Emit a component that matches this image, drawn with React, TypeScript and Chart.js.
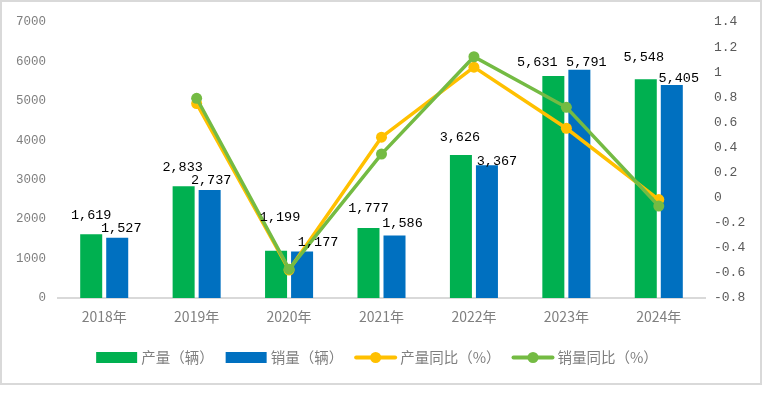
import React, { useEffect, useRef } from 'react';
import { Chart, registerables } from 'chart.js';

Chart.register(...registerables);

const CATEGORIES = ['2018年', '2019年', '2020年', '2021年', '2022年', '2023年', '2024年'];
const PRODUCTION = [1619, 2833, 1199, 1777, 3626, 5631, 5548];
const SALES = [1527, 2737, 1177, 1586, 3367, 5791, 5405];
const PROD_YOY = [null, 0.75, -0.577, 0.482, 1.04, 0.553, -0.015];
const SALES_YOY = [null, 0.792, -0.57, 0.347, 1.123, 0.72, -0.067];
const SERIES_NAMES = ['产量（辆）', '销量（辆）', '产量同比（%）', '销量同比（%）'];
const LEFT_MIN = 0;
const LEFT_MAX = 7000;
const LEFT_STEP = 1000;
const RIGHT_MIN = -0.8;
const RIGHT_MAX = 1.4;
const RIGHT_STEP = 0.2;

const COLORS = ['#00B050', '#0070C0', '#FFC000', '#74BB43'];

// label nudges (style): [dx, dy] relative to bar top centre
const PROD_LABEL_NUDGE = [[0, -15], [-1, -15], [4, -30], [0, -16], [-1, -14], [-16, -10], [-2, -18]];
const SALES_LABEL_NUDGE = [[4, -6], [1.5, -6], [16, -6], [8, -8], [10, 0], [7, -4], [7, -3]];

const W = 762;
const H = 398;
const CJK = '"Noto Sans CJK SC", "Noto Sans", sans-serif';
const MONO = '"Liberation Mono", "DejaVu Sans Mono", monospace';

const framePlugin = {
  id: 'frame',
  beforeDraw(chart: any) {
    const ctx = chart.ctx;
    ctx.save();
    ctx.fillStyle = '#ffffff';
    ctx.fillRect(0, 0, W, H);
    ctx.strokeStyle = '#d9d9d9';
    ctx.lineWidth = 2;
    ctx.strokeRect(1, 1, 760, 383);
    ctx.restore();
  },
};

const labelPlugin = {
  id: 'barLabels',
  afterDatasetsDraw(chart: any) {
    const ctx = chart.ctx;
    ctx.save();
    ctx.font = '13.5px ' + MONO;
    ctx.fillStyle = '#000000';
    ctx.textAlign = 'center';
    ctx.textBaseline = 'alphabetic';
    const sets = [
      { idx: 0, vals: PRODUCTION, nudge: PROD_LABEL_NUDGE },
      { idx: 1, vals: SALES, nudge: SALES_LABEL_NUDGE },
    ];
    sets.forEach((s) => {
      const meta = chart.getDatasetMeta(s.idx);
      meta.data.forEach((el: any, i: number) => {
        const [dx, dy] = s.nudge[i];
        ctx.fillText(s.vals[i].toLocaleString('en-US'), el.x + dx, el.y + dy);
      });
    });
    ctx.restore();
  },
};

const legendPlugin = {
  id: 'customLegend',
  afterDraw(chart: any) {
    const ctx = chart.ctx;
    ctx.save();
    ctx.font = '14.5px ' + CJK;
    const markerW = 41;
    const gapMT = 4;
    const gapItems = 12;
    const widths = SERIES_NAMES.map((n) => ctx.measureText(n).width);
    const total = widths.reduce((a, b) => a + b, 0) + SERIES_NAMES.length * (markerW + gapMT) + (SERIES_NAMES.length - 1) * gapItems;
    let x = 377 - total / 2;
    const cy = 357.5;
    SERIES_NAMES.forEach((name, i) => {
      const c = COLORS[i];
      if (i < 2) {
        ctx.fillStyle = c;
        ctx.fillRect(x, cy - 5.5, markerW, 11);
      } else {
        ctx.strokeStyle = c;
        ctx.lineWidth = 4;
        ctx.lineCap = 'round';
        ctx.beginPath();
        ctx.moveTo(x + 1, cy);
        ctx.lineTo(x + markerW - 1, cy);
        ctx.stroke();
        ctx.fillStyle = c;
        ctx.beginPath();
        ctx.arc(x + markerW / 2, cy, 5.5, 0, Math.PI * 2);
        ctx.fill();
      }
      x += markerW + gapMT;
      ctx.fillStyle = '#7f7f7f';
      ctx.textAlign = 'left';
      ctx.textBaseline = 'middle';
      ctx.fillText(name, x, cy);
      x += widths[i] + gapItems;
    });
    ctx.restore();
  },
};

export default function App() {
  const ref = useRef<HTMLCanvasElement | null>(null);
  useEffect(() => {
    if (!ref.current) return;
    const chart = new Chart(ref.current, {
      type: 'bar',
      data: {
        labels: CATEGORIES,
        datasets: [
          {
            type: 'bar',
            label: SERIES_NAMES[0],
            data: PRODUCTION,
            backgroundColor: COLORS[0],
            yAxisID: 'y',
            order: 3,
            categoryPercentage: 0.563,
            barPercentage: 0.846,
          },
          {
            type: 'bar',
            label: SERIES_NAMES[1],
            data: SALES,
            backgroundColor: COLORS[1],
            yAxisID: 'y',
            order: 3,
            categoryPercentage: 0.563,
            barPercentage: 0.846,
          },
          {
            type: 'line',
            label: SERIES_NAMES[2],
            data: PROD_YOY,
            borderColor: COLORS[2],
            backgroundColor: COLORS[2],
            borderWidth: 3.5,
            pointRadius: 5.5,
            pointBorderWidth: 0,
            pointBackgroundColor: COLORS[2],
            yAxisID: 'y1',
            order: 2,
            spanGaps: true,
          } as any,
          {
            type: 'line',
            label: SERIES_NAMES[3],
            data: SALES_YOY,
            borderColor: COLORS[3],
            backgroundColor: COLORS[3],
            borderWidth: 3.5,
            pointRadius: 5.5,
            pointBorderWidth: 0,
            pointBackgroundColor: COLORS[3],
            yAxisID: 'y1',
            order: 1,
            spanGaps: true,
          } as any,
        ],
      },
      options: {
        responsive: false,
        animation: false,
        events: [],
        layout: { padding: { top: 22, bottom: 60, left: 0, right: 0 } },
        plugins: {
          legend: { display: false },
          tooltip: { enabled: false },
        },
        scales: {
          x: {
            grid: { display: false, drawTicks: false },
            border: { display: true, color: '#d9d9d9', width: 2 },
            ticks: {
              color: '#7f7f7f',
              font: { family: CJK, size: 14 },
              padding: 10,
            },
            afterFit(scale: any) {
              scale.height = 40;
            },
          },
          y: {
            position: 'left',
            min: LEFT_MIN,
            max: LEFT_MAX,
            grid: { display: false, drawTicks: false },
            border: { display: false },
            ticks: {
              stepSize: LEFT_STEP,
              color: '#7f7f7f',
              font: { family: MONO, size: 12.5 },
              padding: 12,
              callback: (v: any) => String(Math.round(Number(v))),
            },
            afterFit(scale: any) {
              scale.width = 58;
            },
          },
          y1: {
            position: 'right',
            min: RIGHT_MIN,
            max: RIGHT_MAX,
            grid: { display: false, drawTicks: false },
            border: { display: false },
            ticks: {
              stepSize: RIGHT_STEP,
              color: '#595959',
              font: { family: MONO, size: 13 },
              padding: 9,
              callback: (v: any) => String(Math.round(Number(v) * 10) / 10),
            },
            afterFit(scale: any) {
              scale.width = 57;
            },
          },
        },
      },
      plugins: [framePlugin, labelPlugin, legendPlugin],
    } as any);
    return () => chart.destroy();
  }, []);
  return (
    <div style={{ position: 'absolute', left: 0, top: 0, width: W, height: H, background: '#fff' }}>
      <canvas ref={ref} width={W} height={H} style={{ width: W, height: H, display: 'block' }} />
    </div>
  );
}
